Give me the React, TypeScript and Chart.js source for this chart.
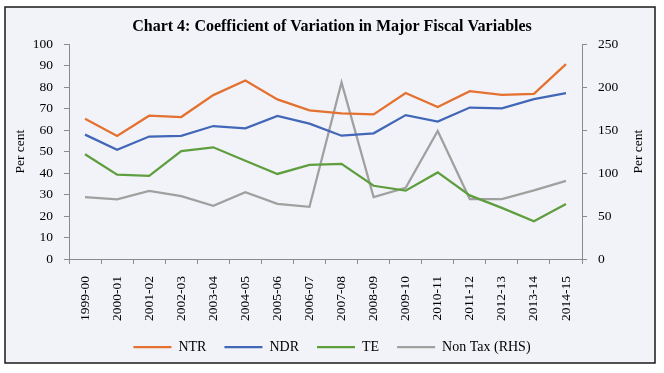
import React, { useEffect, useRef } from "react";
import { Chart, registerables } from "chart.js";

Chart.register(...registerables);

const TITLE = "Chart 4: Coefficient of Variation in Major Fiscal Variables";
const categories = [
  "1999-00", "2000-01", "2001-02", "2002-03", "2003-04", "2004-05", "2005-06", "2006-07",
  "2007-08", "2008-09", "2009-10", "2010-11", "2011-12", "2012-13", "2013-14", "2014-15",
];
const ntr = [65.3, 57.3, 66.7, 66.1, 76.3, 83.1, 74.3, 69.2, 67.8, 67.3, 77.3, 70.8, 78.1, 76.4, 76.9, 90.7];
const ndr = [57.9, 50.9, 57.0, 57.3, 61.9, 60.8, 66.6, 63.0, 57.4, 58.5, 67.0, 64.0, 70.5, 70.1, 74.4, 77.2];
const te = [48.8, 39.3, 38.7, 50.2, 52.0, 45.7, 39.6, 43.8, 44.3, 34.1, 31.8, 40.3, 29.6, 23.8, 17.6, 25.6];
const nonTax = [72.0, 69.3, 79.3, 73.1, 61.9, 77.8, 64.2, 60.8, 205.6, 72.1, 82.9, 148.9, 69.8, 69.8, 79.9, 91.0];
const seriesNames = ["NTR", "NDR", "TE", "Non Tax (RHS)"];
const axisTitle = "Per cent";

const FONT = '"Liberation Serif", "Times New Roman", serif';
const COLORS = ["#E4712F", "#4267B8", "#5F9E3E", "#A0A0A0"];
const AXIS = "#8a8a8a";

const framePlugin = {
  id: "frame",
  beforeDraw(chart: any) {
    const ctx = chart.ctx;
    ctx.save();
    ctx.fillStyle = "#ffffff";
    ctx.fillRect(0, 0, chart.width, chart.height);
    ctx.fillStyle = "#f2f3f8";
    ctx.fillRect(5, 7, 650, 356);
    ctx.strokeStyle = "#1a1a1a";
    ctx.lineWidth = 1.5;
    ctx.strokeRect(5, 7, 650, 356);
    ctx.restore();
  },
  afterDraw(chart: any) {
    const ctx = chart.ctx;
    const area = chart.chartArea;
    ctx.save();
    ctx.translate(638, (area.top + area.bottom) / 2);
    ctx.rotate(-Math.PI / 2);
    ctx.textAlign = "center";
    ctx.textBaseline = "middle";
    ctx.fillStyle = "#000";
    ctx.font = `13.5px ${FONT}`;
    ctx.fillText(axisTitle, 0, 0);
    ctx.restore();
  },
};

export default function App() {
  const ref = useRef<HTMLCanvasElement | null>(null);
  useEffect(() => {
    if (!ref.current) return;
    const mk = (label: string, data: number[], color: string, axis: string) => ({
      label,
      data,
      borderColor: color,
      backgroundColor: color,
      borderWidth: 2.25,
      pointRadius: 0,
      tension: 0,
      yAxisID: axis,
    });
    const chart = new Chart(ref.current, {
      type: "line",
      data: {
        labels: categories,
        datasets: [
          mk(seriesNames[0], ntr, COLORS[0], "y"),
          mk(seriesNames[1], ndr, COLORS[1], "y"),
          mk(seriesNames[2], te, COLORS[2], "y"),
          mk(seriesNames[3], nonTax, COLORS[3], "y2"),
        ],
      },
      options: {
        animation: false,
        responsive: false,
        devicePixelRatio: 1,
        layout: { padding: { left: 0, right: 0, top: 0, bottom: 9 } },
        plugins: {
          title: {
            display: true,
            text: TITLE,
            color: "#000",
            font: { family: FONT, size: 16, weight: "bold" },
            padding: { top: 17, bottom: 8 },
          },
          legend: {
            display: true,
            position: "bottom",
            labels: {
              color: "#000",
              font: { family: FONT, size: 14 },
              usePointStyle: true,
              pointStyle: "line",
              pointStyleWidth: 38,
              padding: 18,
            },
          },
          tooltip: { enabled: false },
        },
        scales: {
          x: {
            type: "category",
            offset: true,
            afterFit: (s: any) => { s.height = 63; },
            grid: { display: true, drawOnChartArea: false, offset: true, tickLength: 5, color: AXIS },
            border: { display: true, color: AXIS },
            ticks: {
              color: "#000",
              font: { family: FONT, size: 13.5 },
              minRotation: 90,
              maxRotation: 90,
              padding: 12,
              autoSkip: false,
            },
          },
          y: {
            position: "left",
            min: 0,
            max: 100,
            afterFit: (s: any) => { s.width = 69; },
            grid: { display: true, drawOnChartArea: false, tickLength: 5, color: AXIS },
            border: { display: true, color: AXIS },
            ticks: { stepSize: 10, color: "#000", font: { family: FONT, size: 13.5 }, padding: 11 },
            title: {
              display: true,
              text: axisTitle,
              color: "#000",
              font: { family: FONT, size: 13.5 },
              padding: { top: 12, bottom: 0 },
            },
          },
          y2: {
            position: "right",
            min: 0,
            max: 250,
            afterFit: (s: any) => { s.width = 82; },
            grid: { display: true, drawOnChartArea: false, tickLength: 5, color: AXIS },
            border: { display: true, color: AXIS },
            ticks: { stepSize: 50, color: "#000", font: { family: FONT, size: 13.5 }, padding: 11 },
          },
        },
      },
      plugins: [framePlugin],
    } as any);
    return () => chart.destroy();
  }, []);
  return (
    <div style={{ position: "fixed", left: 0, top: 0, width: 664, height: 373, background: "#fff" }}>
      <canvas ref={ref} width={664} height={373} style={{ width: 664, height: 373, display: "block" }} />
    </div>
  );
}
